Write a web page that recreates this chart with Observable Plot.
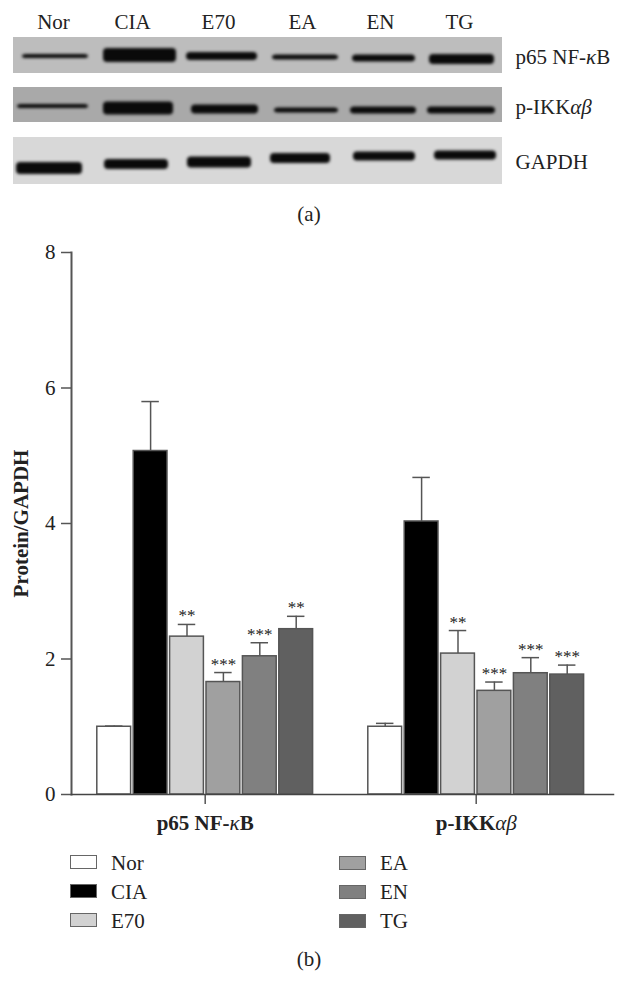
<!DOCTYPE html>
<html><head><meta charset="utf-8">
<script src="https://cdn.jsdelivr.net/npm/d3@7"></script>
<script src="https://cdn.jsdelivr.net/npm/@observablehq/plot@0.6"></script>
<style>
html,body{margin:0;padding:0;background:#fff;overflow:hidden}
#page{position:relative;width:626px;height:1002px;font-family:"Liberation Serif",serif;color:#222}
#page>*{position:absolute}
.cap{font-size:21px;line-height:24px;left:0;width:618px;text-align:center}
.lg{font-size:21px;line-height:24px}
.sw{width:25px;height:12px;border:1.5px solid #666}
svg text{fill:#222}
</style></head><body><div id="page"></div>
<script>
const groups = ["Nor","CIA","E70","EA","EN","TG"];
const colors = ["#ffffff","#000000","#d2d2d2","#a0a0a0","#808080","#606060"];
const proteins = ["p65 NF-κB","p-IKKαβ"];
const p65Mean = [1.0,5.07,2.33,1.66,2.04,2.44];
const p65Top  = [1.01,5.80,2.51,1.80,2.24,2.63];
const ikkMean = [1.0,4.03,2.08,1.53,1.79,1.77];
const ikkTop  = [1.05,4.68,2.42,1.66,2.02,1.91];
const p65Stars = ["","","**","***","***","**"];
const ikkStars = ["","","**","***","***","***"];

// Gel image in gel units
const blots = ["p65 NF-κB","p-IKKαβ","GAPDH"];
const blotTop = [37,87,137];
const blotBottom = [73,122,184];
const blotLabelY = [57,107,162];
const blotBg = ["#bdbdbd","#a9a9a9","#d8d8d8"];
const laneLabelX = [53,132,218,302,380,459];
const bandLeft = [[22,103,186,272,352,429],[17,103,191,274,350,427],[16,104,187,270,353,434]];
const bandRight = [[88,176,257,338,415,494],[88,173,258,338,416,495],[82,168,251,330,415,496]];
const bandCentre = [[56,55,56,57,58,59],[106,108,109,110,110,110],[168,164,162,158,156,155]];
const bandThick = [[4,14,8,5,7,10],[4,13,9,5,7,7],[12,10,11,10,9,9]];

const serif = '"Liberation Serif",serif';
const page = document.getElementById("page");
function italicGreek(root){
  d3.select(root).selectAll("text").each(function(){
    const t=this, s=t.textContent;
    if(!/[κα-ω]/.test(s) || t.querySelector("tspan")) return;
    t.textContent="";
    for(const part of s.split(/([κα-ω]+)/)){
      if(!part) continue;
      const sp=document.createElementNS("http://www.w3.org/2000/svg","tspan");
      sp.textContent=part;
      if(/[κα-ω]/.test(part)){sp.setAttribute("font-style","italic");sp.setAttribute("font-weight","normal");}
      t.appendChild(sp);
    }
  });
}
function place(el,x,y){el.style.left=x+"px";el.style.top=y+"px";page.appendChild(el);return el;}

/* ---- blots ---- */
const panelRows = blots.map((b,i)=>({b,top:blotTop[i],bottom:blotBottom[i],labelY:blotLabelY[i],bg:blotBg[i]}));
const bands = blots.flatMap((b,i)=>groups.map((g,j)=>({
  x1:bandLeft[i][j],x2:bandRight[i][j],
  y1:bandCentre[i][j]-bandThick[i][j]/2,y2:bandCentre[i][j]+bandThick[i][j]/2})));
const laneRows = groups.map((g,i)=>({g,x:laneLabelX[i],y:22}));
const blotPlot = Plot.plot({
  width:626,height:200,marginLeft:13,marginRight:124,marginTop:0,marginBottom:0,
  style:{fontFamily:serif,fontSize:"21px",background:"transparent",overflow:"visible"},
  x:{domain:[13,502],axis:null},
  y:{domain:[0,200],range:[0,200],axis:null},
  marks:[
    Plot.rect(panelRows,{y1:"top",y2:"bottom",fill:"bg"}),
    Plot.rect(bands,{x1:"x1",x2:"x2",y1:"y1",y2:"y2",fill:"#0a0a0a",rx:4,imageFilter:"blur(1.8px)"}),
    Plot.text(laneRows,{x:"x",y:"y",text:"g",fontSize:21}),
    Plot.text(panelRows,{y:"labelY",text:"b",frameAnchor:"right",textAnchor:"start",dx:13,fontSize:21})
  ]
});
italicGreek(blotPlot);
place(blotPlot,0,0);
const capA=document.createElement("div");capA.className="cap";capA.textContent="(a)";place(capA,0,202);

/* ---- bars ---- */
// Bars sit on a slot axis: six slots per group, then a gap between the two groups
const groupStep = 7.445;
const rows = [
  ...groups.map((g,i)=>({p:proteins[0],g,slot:i,v:p65Mean[i],top:p65Top[i],s:p65Stars[i],c:colors[i]})),
  ...groups.map((g,i)=>({p:proteins[1],g,slot:i+groupStep,v:ikkMean[i],top:ikkTop[i],s:ikkStars[i],c:colors[i]}))
];
const centres = proteins.map((p,i)=>3+i*groupStep);
const barPlot = Plot.plot({
  width:626,height:600,marginLeft:71,marginRight:13,marginTop:22,marginBottom:36,
  style:{fontFamily:serif,fontSize:"21px",background:"transparent",overflow:"visible"},
  x:{domain:[-0.673,14.217],axis:null},
  y:{domain:[0,8],label:null,axis:null},
  marks:[
    Plot.ruleX(rows,{x:d=>d.slot+.5,y1:"v",y2:"top",stroke:"#555",strokeWidth:1.5}),
    Plot.ruleY(rows,{y:"top",x1:d=>d.slot+.26,x2:d=>d.slot+.74,stroke:"#555",strokeWidth:1.5}),
    Plot.rect(rows,{x1:"slot",x2:d=>d.slot+1,y1:0,y2:"v",fill:"c",stroke:"#555",strokeWidth:1.5,insetLeft:1.3,insetRight:1.3}),
    Plot.text(rows,{x:d=>d.slot+.5,y:"top",text:"s",dy:-3,lineAnchor:"bottom",fontSize:17,letterSpacing:"1.5px"}),
    Plot.axisY({ticks:[0,2,4,6,8],tickSize:10,tickPadding:6,tickFormat:d=>d,fontSize:21,stroke:"#555",label:null,strokeWidth:1.5}),
    Plot.axisX({anchor:"bottom",ticks:centres,tickSize:10,tickPadding:11,tickFormat:(d,i)=>proteins[i],fontSize:21,fontWeight:"bold",stroke:"#555",label:null,strokeWidth:1.5}),
    Plot.frame({anchor:"left",stroke:"#555",strokeWidth:2}),
    Plot.frame({anchor:"bottom",stroke:"#444",strokeWidth:1.5}),
    Plot.text(["Protein/GAPDH"],{frameAnchor:"left",textAnchor:"middle",dx:-50,rotate:-90,fontSize:21,fontWeight:"bold",text:d=>d})
  ]
});
italicGreek(barPlot);
place(barPlot,0,230);

/* ---- legend ---- */
groups.forEach((g,i)=>{
  const col=i<3?0:1, row=i%3;
  const sw=document.createElement("div");sw.className="sw";sw.style.background=colors[i];
  place(sw,col?339:70,855+col+row*29.2);
  const t=document.createElement("div");t.className="lg";t.textContent=g;
  place(t,col?380:111,851+row*29.2);
});
const capB=document.createElement("div");capB.className="cap";capB.textContent="(b)";place(capB,0,947);
</script></body></html>
